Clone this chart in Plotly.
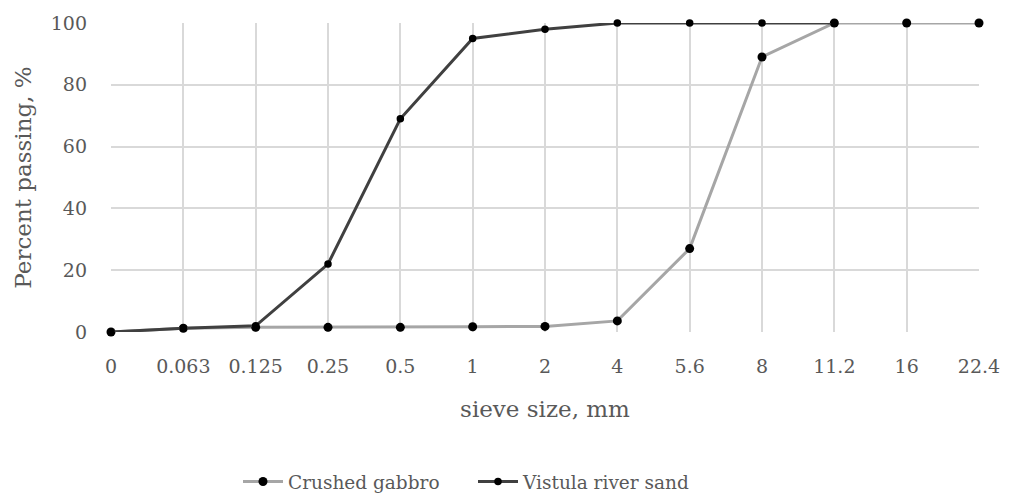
import plotly.graph_objects as go

sieve_sizes = ["0", "0.063", "0.125", "0.25", "0.5", "1", "2", "4", "5.6", "8", "11.2", "16", "22.4"]
crushed_gabbro = [0, 1.2, 1.5, 1.5, 1.5, 1.7, 1.8, 3.6, 27, 89, 100, 100, 100]
vistula_sand = [0, 1.2, 2, 22, 69, 95, 98, 100, 100, 100, 100, None, None]
y_ticks = [0, 20, 40, 60, 80, 100]

FONT = "DejaVu Serif"
TXT = "#595959"

fig = go.Figure()
fig.add_trace(go.Scatter(
    x=sieve_sizes, y=crushed_gabbro, name="Crushed gabbro",
    mode="lines+markers",
    line=dict(color="#a6a6a6", width=3),
    marker=dict(color="black", size=9),
    cliponaxis=False,
))
fig.add_trace(go.Scatter(
    x=sieve_sizes, y=vistula_sand, name="Vistula river sand",
    mode="lines+markers",
    line=dict(color="#404040", width=3),
    marker=dict(color="black", size=7.5),
    cliponaxis=False,
))

# page body has an 8px margin, so the figure is offset by (8, 8)
fig.update_layout(
    width=1005, height=488,
    margin=dict(l=103, r=34, t=15, b=164, autoexpand=False),
    paper_bgcolor="white", plot_bgcolor="white",
    font=dict(family=FONT, size=19, color=TXT),
    showlegend=True,
    legend=dict(orientation="h", x=(465 - 103) / 868, xanchor="center",
                yref="container", y=1 - 474 / 488, yanchor="middle",
                font=dict(family=FONT, size=18.5, color=TXT), itemwidth=40,
                entrywidth=180, entrywidthmode="pixels"),
)
fig.update_xaxes(
    type="category", categoryorder="array", categoryarray=sieve_sizes,
    range=[0, len(sieve_sizes) - 1], automargin=False,
    showgrid=True, gridcolor="#d9d9d9", gridwidth=1.5,
    showline=False, zeroline=False,
    ticks="", ticklabelstandoff=21, tickfont=dict(size=19),
    title=dict(text="sieve size, mm", standoff=24, font=dict(family=FONT, size=23, color=TXT)),
)
fig.update_yaxes(
    range=[0, 100], tickvals=y_ticks, automargin=False,
    showgrid=True, gridcolor="#d9d9d9", gridwidth=1.5,
    showline=False, zeroline=False,
    ticks="", ticklabelstandoff=23, tickfont=dict(size=19),
    title=dict(text="Percent passing, %", standoff=12, font=dict(family=FONT, size=23, color=TXT)),
)

fig.write_html("out.html")
